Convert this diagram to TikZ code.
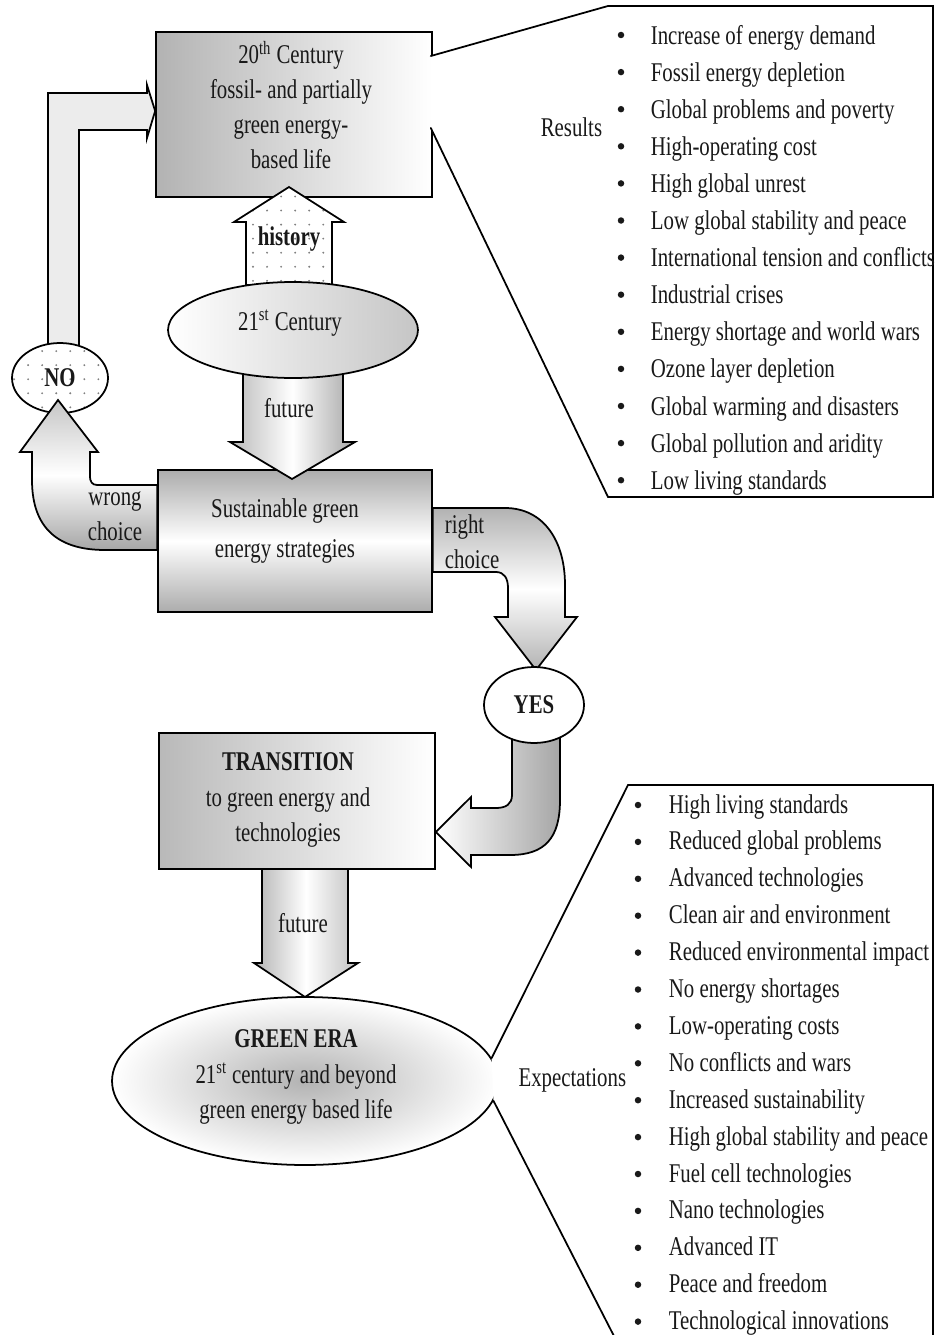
\documentclass[tikz,border=0pt]{standalone}
\usepackage{fontspec}
\setmainfont{Liberation Serif}[FakeStretch=0.77]
\usepackage{tkz-euclide}
\usepackage{tikz}
\usetikzlibrary{shapes.geometric,patterns.meta}

\begin{document}
\begin{tikzpicture}[x=0.02cm,y=-0.02cm,line width=1pt,
    txt/.style={font=\fontsize{15.4}{20}\selectfont,text=black!90,align=center,inner sep=0pt},
    item/.style={txt,anchor=west,text height=11pt,text depth=3pt},
    bullet/.style={circle,fill=black!90,inner sep=0pt,minimum size=0.13cm},
    box/.style={draw,rectangle,inner sep=0pt},
    oval/.style={draw,ellipse,inner sep=0pt,txt},
    dotfill/.style={preaction={fill=white},pattern={Dots[radius=0.6pt,distance=8pt]},pattern color=gray}]
    %frame
    \useasboundingbox (0,0) rectangle (935,1335);
    \fill[white] (0,0) rectangle (935,1335);
    %boxes
    \node[box,minimum width=5.52cm,minimum height=3.3cm,left color=gray!60,right color=white] (past) at (294,114.5) {};
    \node[box,minimum width=5.48cm,minimum height=2.84cm,top color=gray!65,bottom color=gray!65,middle color=white] (strat) at (295,541) {};
    \node[box,minimum width=5.52cm,minimum height=2.72cm,left color=gray!55,right color=white] (trans) at (297,801) {};
    %no -> 20th century
    \draw[fill=gray!15] (48,350) -- (48,93) -- (147,93) -- (147,85) -- (past.west |- 0,111)
        -- (147,138) -- (147,130) -- (79,130) -- (79,350) -- cycle;
    \node[oval,dotfill,minimum width=1.92cm,minimum height=1.4cm] (no) at (60,378) {\bfseries NO};
    %wrong choice
    \draw[top color=gray!45,bottom color=gray!70,middle color=white] (strat.west |- 0,485) -- (97,485)
        .. controls (92,485) and (90,481) .. (90,477) -- (90,452) -- (98,452) -- (58,400) -- (20,452)
        -- (32,452) -- (32,480) .. controls (32,530) and (60,550) .. (105,550) -- (strat.west |- 0,550) -- cycle;
    %history and future
    \draw[dotfill] (246,285) -- (246,222) -- (234,222) -- (289,187) -- (344,222) -- (332,222) -- (332,285) -- cycle;
    \draw[left color=gray!55,right color=gray!70,middle color=white] (243,370) -- (243,442) -- (230,442)
        -- (292,479) -- (355,442) -- (343,442) -- (343,370) -- cycle;
    \node[oval,minimum width=5cm,minimum height=1.92cm,left color=white,right color=gray!45] (now) at (293,330) {};
    %right choice
    \draw[top color=gray!60,bottom color=gray!60,middle color=white] (strat.east |- 0,508) -- (505,508)
        .. controls (543,508) and (565,540) .. (565,585) -- (565,617) -- (577,617) -- (536,670) -- (495,617)
        -- (508,617) -- (508,588) .. controls (508,578) and (504,572) .. (496,572) -- (strat.east |- 0,572) -- cycle;
    \draw[left color=white,right color=gray!70] (512,735) -- (512,795) .. controls (512,804) and (506,808) .. (496,808)
        -- (471,808) -- (471,797) -- (trans.east |- 0,832) -- (471,867) -- (471,855) -- (510,855)
        .. controls (545,855) and (560,838) .. (560,800) -- (560,735) -- cycle;
    \node[oval,fill=white,minimum width=2cm,minimum height=1.52cm] (yes) at (534,705) {\bfseries YES};
    %future
    \draw[left color=gray!60,right color=gray!50,middle color=white] (262,869) -- (262,963) -- (254,963)
        -- (305,997) -- (358,963) -- (348,963) -- (348,869) -- cycle;
    \node[oval,minimum width=7.72cm,minimum height=3.36cm,inner color=gray!60,outer color=white] (green) at (305,1081) {};
    %callouts
    \tkzDefPoint(430.8,56){R1}
    \tkzDefPoint(608,6){R2}
    \tkzDefPoint(933,6){R3}
    \tkzDefPoint(933,497){R4}
    \tkzDefPoint(608,497){R5}
    \tkzDefPoint(430.8,128){R6}
    \tkzFillPolygon[color=white](R1,R2,R3,R4,R5,R6)
    \tkzDrawPolySeg[line width=1pt](R1,R2,R3,R4,R5,R6)
    \coordinate (E1) at (green.7);
    \tkzDefPoint(628,785){E2}
    \tkzDefPoint(933,785){E3}
    \tkzDefPoint(933,1340){E4}
    \tkzDefPoint(616,1340){E5}
    \coordinate (E6) at (green.-6);
    \tkzFillPolygon[color=white](E1,E2,E3,E4,E5,E6)
    \tkzDrawPolySeg[line width=1pt](E1,E2,E3,E4,E5,E6)
    %label
    \node[txt] (pasttxt) at (291,105) {20\textsuperscript{th} Century\\fossil- and partially\\green energy-\\based life};
    \node[txt] (nowtxt) at (290,323) {21\textsuperscript{st} Century};
    \node[txt,font=\fontsize{15.4}{23.3}\selectfont] (strattxt) at (285,531) {Sustainable green\\energy strategies};
    \node[txt] (transtxt) at (288,800) {\textbf{TRANSITION}\\to green energy and\\technologies};
    \node[txt] (greentxt) at (296,1077) {\textbf{GREEN ERA}\\21\textsuperscript{st} century and beyond\\green energy based life};
    \node[txt] (histtxt) at (289,239) {\bfseries history};
    \node[txt] (fut1) at (289,408) {future};
    \node[txt] (fut2) at (303,923) {future};
    \node[txt] (wrongtxt) at (115,516) {wrong\\choice};
    \node[txt,align=left,anchor=west] (righttxt) at (444,542) {right\\choice};
    \node[txt,anchor=east] (results) at (603,127) {Results};
    \node[txt,anchor=east] (expect) at (627,1080) {Expectations};
    \foreach \t [count=\i] in {Increase of energy demand,Fossil energy depletion,Global problems and poverty,
        High-operating cost,High global unrest,Low global stability and peace,International tension and conflicts,
        Industrial crises,Energy shortage and world wars,Ozone layer depletion,Global warming and disasters,
        Global pollution and aridity,Low living standards}{
        \node[bullet] (rb\i) at (621,{35+37.1*(\i-1)}) {};
        \node[item] (r\i) at (650,{37+37.1*(\i-1)}) {\t};
    }
    \foreach \t [count=\i] in {High living standards,Reduced global problems,Advanced technologies,
        Clean air and environment,Reduced environmental impact,No energy shortages,Low-operating costs,
        No conflicts and wars,Increased sustainability,High global stability and peace,Fuel cell technologies,
        Nano technologies,Advanced IT,Peace and freedom,Technological innovations}{
        \node[bullet] (eb\i) at (638,{805+36.9*(\i-1)}) {};
        \node[item] (e\i) at (668,{806+36.9*(\i-1)}) {\t};
    }
\end{tikzpicture}
\end{document}
